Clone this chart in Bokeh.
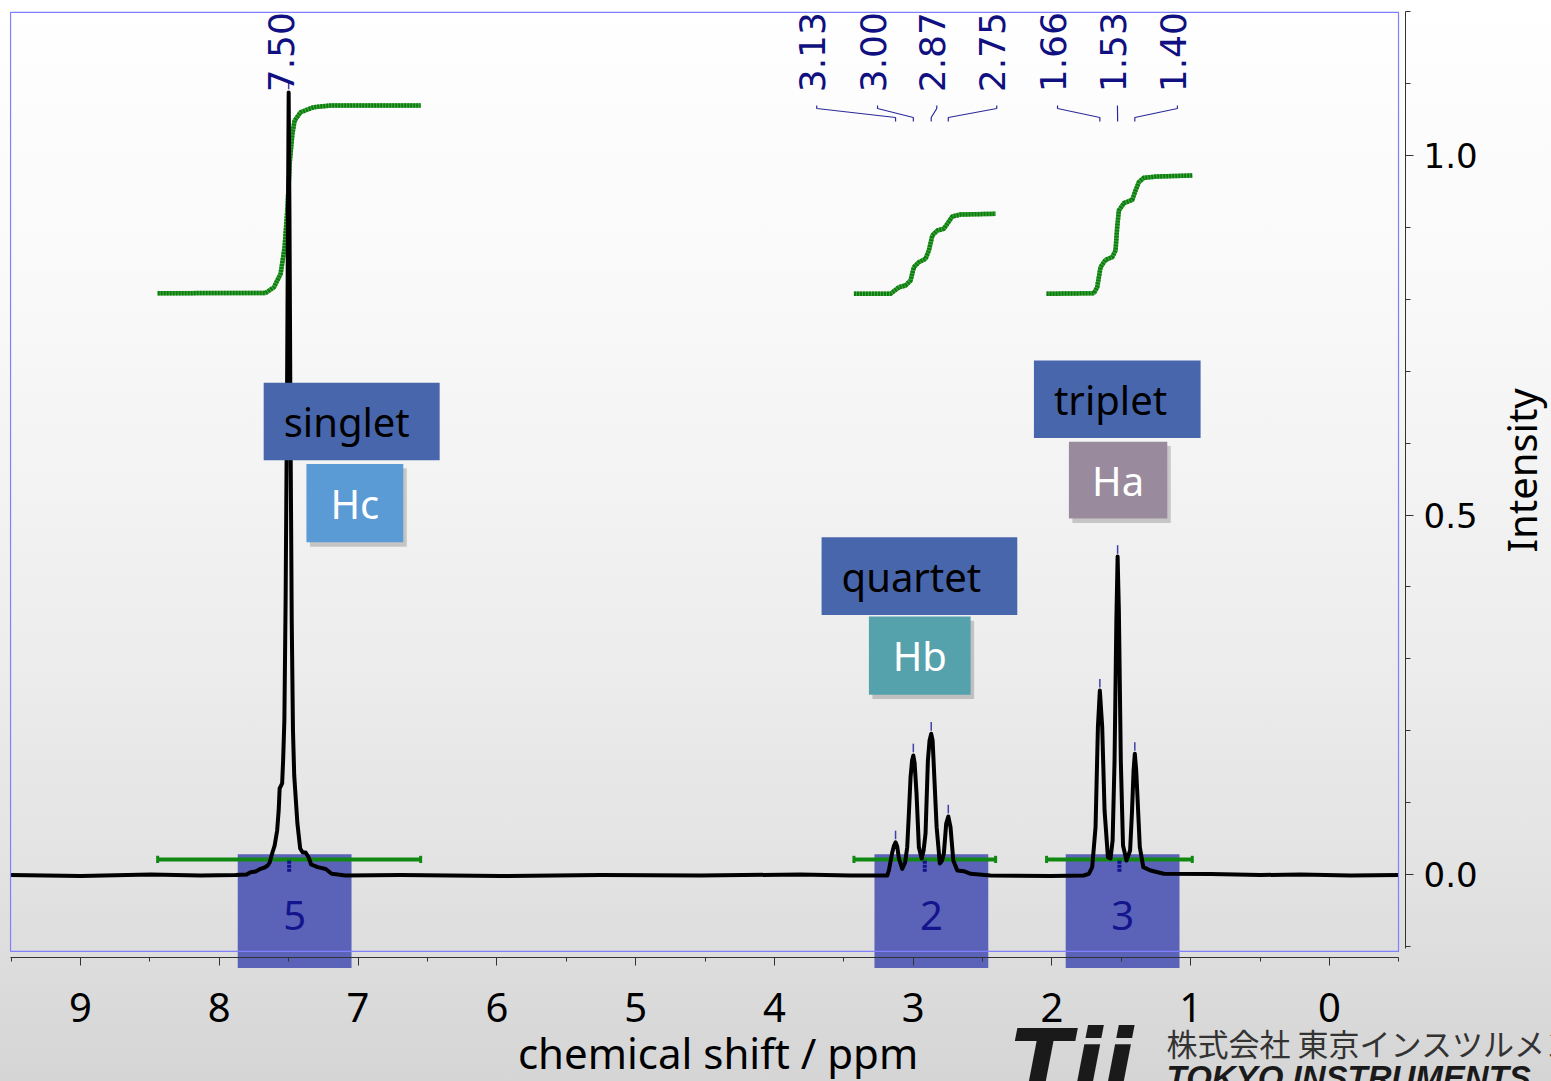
import math
from bokeh.plotting import figure
from bokeh.models import Range1d, SingleIntervalTicker, BoxAnnotation, NumeralTickFormatter
from bokeh.core.properties import value
from bokeh.embed import file_html
from bokeh.resources import INLINE

# ---------------- data ----------------
# 1H NMR spectrum (chemical shift / ppm, intensity)
spec_ppm = [9.503, 8.999, 8.494, 8.134, 7.882, 7.803, 7.774, 7.738, 7.702, 7.673,
            7.651, 7.637, 7.617, 7.601, 7.583, 7.572, 7.565, 7.547, 7.540, 7.531,
            7.522, 7.512, 7.505, 7.500, 7.494, 7.487, 7.478, 7.469, 7.460, 7.437,
            7.417, 7.399, 7.378, 7.356, 7.338, 7.291, 7.233, 7.190, 7.089, 6.693,
            5.973, 5.252, 4.532, 3.811, 3.451, 3.187,
            3.175, 3.151, 3.138, 3.127, 3.115, 3.103, 3.079, 3.058, 3.043, 3.030,
            3.019, 3.008, 2.999, 2.990, 2.976, 2.959, 2.939, 2.925, 2.911, 2.894,
            2.882, 2.870, 2.860, 2.851, 2.831, 2.808, 2.792, 2.779, 2.762, 2.747,
            2.731, 2.711, 2.682, 2.635, 2.586, 2.442, 2.010, 1.772,
            1.734, 1.710, 1.686, 1.669, 1.655, 1.638, 1.621, 1.597, 1.578, 1.563,
            1.549, 1.536, 1.527, 1.518, 1.504, 1.488, 1.463, 1.437, 1.423, 1.412,
            1.403, 1.393, 1.385, 1.367, 1.342, 1.290, 1.194, 0.857, 0.497, 0.209,
            -0.151, -0.497]
spec_int = [-0.0007, -0.0021, 0.0000, -0.0014, -0.0007, 0.0000, 0.0032, 0.0042, 0.0079, 0.0097,
            0.0125, 0.0167, 0.0306, 0.0403, 0.0612, 0.0890, 0.1196, 0.1266, 0.1586, 0.2142,
            0.3811, 0.6592, 0.9096, 1.0876, 0.9096, 0.6314, 0.3533, 0.2003, 0.1377, 0.0709,
            0.0362, 0.0306, 0.0306, 0.0236, 0.0139, 0.0102, 0.0076, 0.0010, -0.0014, -0.0007,
            -0.0021, -0.0007, -0.0014, 0.0000, -0.0014, -0.0014,
            0.0056, 0.0306, 0.0403, 0.0449, 0.0389, 0.0223, 0.0079, 0.0167, 0.0380, 0.0890,
            0.1353, 0.1586, 0.1655, 0.1558, 0.1127, 0.0380, 0.0223, 0.0334, 0.0570, 0.1586,
            0.1864, 0.1957, 0.1864, 0.1492, 0.0658, 0.0153, 0.0195, 0.0292, 0.0709, 0.0807,
            0.0658, 0.0195, 0.0056, 0.0046, 0.0010, -0.0014, -0.0021, -0.0014,
            0.0010, 0.0102, 0.0658, 0.2049, 0.2559, 0.2049, 0.0890, 0.0241, 0.0223, 0.0473,
            0.1586, 0.3533, 0.4423, 0.3672, 0.1586, 0.0403, 0.0195, 0.0334, 0.0890, 0.1446,
            0.1679, 0.1446, 0.1127, 0.0380, 0.0102, 0.0056, 0.0010, 0.0007, -0.0007, 0.0000,
            -0.0014, -0.0007]

# picked peaks
peak_labels = ["7.50", "3.13", "3.00", "2.87", "2.75", "1.66", "1.53", "1.40"]
peak_ppm = [7.500, 3.127, 2.999, 2.870, 2.747, 1.655, 1.527, 1.403]
peak_height = [1.088, 0.045, 0.166, 0.196, 0.081, 0.256, 0.442, 0.168]
peak_label_ppm = [7.552, 3.727, 3.289, 2.862, 2.430, 1.992, 1.560, 1.128]

# integral curves
integ1_ppm = [8.444, 7.666, 7.606, 7.558, 7.529, 7.510, 7.491, 7.473, 7.457, 7.414, 7.320, 7.198, 6.549]
integ1_val = [0.8085, 0.8088, 0.8168, 0.8355, 0.8725, 0.9235, 0.9930, 1.0306, 1.0487, 1.0602, 1.0672, 1.0695, 1.0695]
integ2_ppm = [3.427, 3.163, 3.103, 3.055, 3.019, 2.995, 2.959, 2.911, 2.887, 2.862, 2.826, 2.779, 2.754, 2.718, 2.659, 2.406]
integ2_val = [0.8077, 0.8077, 0.8168, 0.8192, 0.8261, 0.8447, 0.8516, 0.8563, 0.8679, 0.8888, 0.8957, 0.8981, 0.9050, 0.9152, 0.9179, 0.9189]
integ3_ppm = [2.039, 1.698, 1.674, 1.650, 1.614, 1.566, 1.542, 1.530, 1.518, 1.482, 1.421, 1.398, 1.374, 1.338, 1.241, 0.989]
integ3_val = [0.8077, 0.8085, 0.8168, 0.8447, 0.8549, 0.8586, 0.8679, 0.9003, 0.9235, 0.9337, 0.9384, 0.9513, 0.9629, 0.9690, 0.9708, 0.9722]

# integration ranges and values
integ_from = [8.444, 3.427, 2.039]
integ_to = [6.549, 2.406, 0.989]
integ_values = ["5", "2", "3"]
integ_box_center = [7.457, 2.869, 1.491]

# multiplet annotations
mult_names = ["singlet", "quartet", "triplet"]
mult_left = [7.680, 3.660, 2.130]
mult_right = [6.412, 2.250, 0.929]
mult_top = [0.684, 0.469, 0.715]
mult_bottom = [0.576, 0.361, 0.607]

proton_names = ["Hc", "Hb", "Ha"]
proton_left = [7.372, 3.319, 1.878]
proton_right = [6.674, 2.586, 1.169]
proton_top = [0.571, 0.359, 0.602]
proton_bottom = [0.462, 0.250, 0.495]
proton_colors = ["#5B9BD5", "#55A2AD", "#998B9D"]

# axes
x_label = "chemical shift / ppm"
y_label = "Intensity"
x_ticks_major = 1
y_ticks_major = 0.5
x_axis_span = (-0.5, 9.504)
y_axis_span = (-0.103, 1.2)

# ---------------- figure (frame covers the whole canvas) ----------------
p = figure(width=1551, height=1081,
           x_range=Range1d(9.5764, -1.5994), y_range=Range1d(-0.2879, 1.2156),
           output_backend="svg", toolbar_location=None,
           y_axis_location="right",
           min_border_left=0, min_border_right=0, min_border_top=0, min_border_bottom=0,
           styles={"background": "linear-gradient(to bottom, #ffffff 0%, #f8f8f8 30%, #eeeeee 58%, #e3e3e3 80%, #d5d5d5 100%)"})
p.background_fill_color = None
p.border_fill_color = None
p.outline_line_color = None
p.xgrid.visible = False
p.ygrid.visible = False

xa = p.xaxis[0]
xa.fixed_location = -0.1154
xa.bounds = x_axis_span
xa.ticker = SingleIntervalTicker(interval=x_ticks_major, num_minor_ticks=2)
xa.major_tick_in = 0
xa.major_tick_out = 8
xa.minor_tick_in = 0
xa.minor_tick_out = 4
xa.axis_line_color = "#333333"
xa.major_tick_line_color = "#333333"
xa.minor_tick_line_color = "#333333"
xa.major_label_text_font = "Noto Sans"
xa.major_label_text_font_size = "40px"
xa.major_label_text_color = "#000000"
xa.major_label_standoff = 28

ya = p.yaxis[0]
ya.fixed_location = -0.5476
ya.bounds = y_axis_span
ya.ticker = SingleIntervalTicker(interval=y_ticks_major, num_minor_ticks=5)
ya.formatter = NumeralTickFormatter(format="0.0")
ya.major_tick_in = 0
ya.major_tick_out = 8
ya.minor_tick_in = 0
ya.minor_tick_out = 5
ya.axis_line_color = "#333333"
ya.major_tick_line_color = "#333333"
ya.minor_tick_line_color = "#333333"
ya.major_label_text_font = "DejaVu Sans"
ya.major_label_text_font_size = "34px"
ya.major_label_text_color = "#000000"
ya.major_label_standoff = 10

# axis titles
p.text(x=[4.406], y=[-0.2475], text=[x_label], text_font=value("Noto Sans"),
       text_font_size="42px", text_color="#000000", text_align="center", text_baseline="middle")
p.text(x=[-1.385], y=[0.562], text=[y_label], angle=math.pi / 2, text_font=value("Noto Sans"),
       text_font_size="40px", text_color="#000000", text_align="center", text_baseline="middle")

# plot-area outline (light blue)
p.add_layout(BoxAnnotation(left=9.504, right=-0.497, top=1.199, bottom=-0.107,
                           fill_alpha=0, line_color="#8080ff", line_alpha=1, line_width=1.2))

# integration value boxes (behind everything)
for c in integ_box_center:
    p.add_layout(BoxAnnotation(left=c + 0.41, right=c - 0.41, top=0.028, bottom=-0.130,
                               fill_color="#5A63B8", fill_alpha=1, line_alpha=0,
                               level="underlay"))

# integration range bars with end caps
p.segment(x0=integ_from, y0=[0.021] * 3, x1=integ_to, y1=[0.021] * 3,
          line_color="#118811", line_width=4)
cap_x = integ_from + integ_to
p.segment(x0=cap_x, y0=[0.016] * 6, x1=cap_x, y1=[0.026] * 6,
          line_color="#118811", line_width=3)

# integral curves
for xs, ys in [(integ1_ppm, integ1_val), (integ2_ppm, integ2_val), (integ3_ppm, integ3_val)]:
    p.line(xs, ys, line_color="#4aa64a", line_width=4.5)
    p.line(xs, ys, line_color="#0b7f0b", line_width=4.5, line_dash="2 1")

# spectrum
p.line(spec_ppm, spec_int, line_color="#000000", line_width=4, line_join="round")

# integration centre marks
integ_mid = [(a + b) / 2 for a, b in zip(integ_from, integ_to)]
p.segment(x0=integ_mid, y0=[0.004] * 3, x1=integ_mid, y1=[0.021] * 3,
          line_color="#12128a", line_width=4, line_dash="3 1")

# integration values
p.text(x=integ_box_center, y=[-0.057] * 3, text=integ_values,
       text_font=value("Noto Sans"), text_font_size="40px", text_color="#14148c",
       text_align="center", text_baseline="middle")

# peak markers
p.segment(x0=peak_ppm, y0=[h + 0.004 for h in peak_height],
          x1=peak_ppm, y1=[h + 0.016 for h in peak_height],
          line_color="#4040a8", line_width=1.5)

# peak labels (rotated) and connectors
p.text(x=peak_label_ppm, y=[1.088] * len(peak_labels), text=peak_labels, angle=math.pi / 2,
       text_font=value("DejaVu Sans"), text_font_size="36px", text_color="#101080",
       text_align="left", text_baseline="middle")
cx, cy = [], []
for lp, pp in zip(peak_label_ppm[1:], peak_ppm[1:]):
    lx = lp - 0.032
    cx.append([lx, lx, pp, pp])
    cy.append([1.0695, 1.0654, 1.0529, 1.0473])
p.multi_line(cx, cy, line_color="#2a2a9a", line_width=1.2)

# multiplet boxes
p.quad(left=mult_left, right=mult_right, top=mult_top, bottom=mult_bottom,
       fill_color="#4866AC", line_alpha=0)
p.text(x=mult_left, y=[(t + b) / 2 for t, b in zip(mult_top, mult_bottom)], text=mult_names,
       x_offset=20, text_font=value("Noto Sans"), text_font_size="40px", text_color="#000000",
       text_align="left", text_baseline="middle")

# proton boxes with soft shadow
p.quad(left=[l - 0.025 for l in proton_left], right=[r - 0.025 for r in proton_right],
       top=[t - 0.006 for t in proton_top], bottom=[b - 0.006 for b in proton_bottom],
       fill_color="#000000", fill_alpha=0.18, line_alpha=0)
p.quad(left=proton_left, right=proton_right, top=proton_top, bottom=proton_bottom,
       fill_color=proton_colors, line_alpha=0)
p.text(x=[(l + r) / 2 for l, r in zip(proton_left, proton_right)],
       y=[(t + b) / 2 for t, b in zip(proton_top, proton_bottom)], text=proton_names,
       text_font=value("Noto Sans"), text_font_size="40px", text_color="#ffffff",
       text_align="center", text_baseline="middle")

# company logo texts
p.text(x=[2.298], y=[-0.1878], text=["Tii"], text_font=value("DejaVu Sans"),
       text_font_style="bold italic", text_font_size="90px", text_color="#1a1a1a",
       text_align="left", text_baseline="top")
p.text(x=[1.174], y=[-0.234], text=["株式会社 東京インスツルメンツ"],
       text_font=value("Noto Sans CJK JP"), text_font_size="31px", text_color="#333333",
       text_align="left", text_baseline="middle")
p.text(x=[1.174], y=[-0.257], text=["TOKYO INSTRUMENTS, INC."],
       text_font=value("Liberation Sans"), text_font_style="bold italic",
       text_font_size="33px", text_color="#1a1a1a",
       text_align="left", text_baseline="top")

open("out.html", "w").write(file_html(p, INLINE))
